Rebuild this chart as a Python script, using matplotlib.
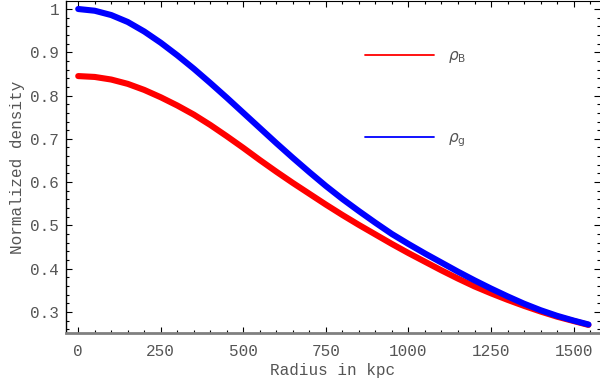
import matplotlib
matplotlib.use("Agg")
import matplotlib.pyplot as plt
from matplotlib.ticker import MultipleLocator

# radius in kpc and the two normalized density profiles
radius = [0, 50, 100, 150, 200, 250, 300, 350, 400, 450, 500, 550, 600, 650,
          700, 750, 800, 850, 900, 950, 1000, 1050, 1100, 1150, 1200, 1250,
          1300, 1350, 1400, 1450, 1500, 1545]
rho_B = [0.845, 0.843, 0.837, 0.827, 0.813, 0.796, 0.777, 0.756, 0.732, 0.706,
         0.679, 0.651, 0.624, 0.598, 0.573, 0.548, 0.524, 0.501, 0.479, 0.457,
         0.436, 0.416, 0.396, 0.377, 0.359, 0.343, 0.328, 0.314, 0.301, 0.289,
         0.279, 0.270]
rho_g = [1.000, 0.996, 0.986, 0.970, 0.948, 0.922, 0.893, 0.862, 0.829, 0.795,
         0.760, 0.725, 0.690, 0.656, 0.623, 0.591, 0.561, 0.533, 0.506, 0.480,
         0.457, 0.435, 0.414, 0.393, 0.373, 0.354, 0.336, 0.319, 0.304, 0.291,
         0.280, 0.271]

txt = "#555555"
mono = "Liberation Mono"

fig = plt.figure(figsize=(6, 3.79), dpi=100)
ax = fig.add_axes([66 / 600, 46 / 379, 534 / 600, 332 / 379])

ax.plot(radius, rho_B, color="#ff0000", lw=4.4, solid_capstyle="round", label=r"$\rho_{\mathrm{B}}$")
ax.plot(radius, rho_g, color="#0000ff", lw=4.4, solid_capstyle="round", label=r"$\rho_{\mathrm{g}}$")

ax.set_xlim(-37, 1580)
ax.set_ylim(0.2513, 1.0185)

ax.xaxis.set_major_locator(MultipleLocator(250))
ax.xaxis.set_minor_locator(MultipleLocator(50))
ax.yaxis.set_minor_locator(MultipleLocator(0.02))
ax.set_yticks([0.3, 0.4, 0.5, 0.6, 0.7, 0.8, 0.9, 1.0])
ax.set_yticklabels(["0.3", "0.4", "0.5", "0.6", "0.7", "0.8", "0.9", "1"])

ax.tick_params(which="both", direction="in", top=True, right=True,
               labelcolor=txt, labelsize=11.5, width=0.8)
ax.tick_params(which="major", length=4.5)
ax.tick_params(which="minor", length=2.5)
ax.tick_params(axis="x", pad=8)
ax.tick_params(axis="y", pad=5)
for lab in ax.get_xticklabels() + ax.get_yticklabels():
    lab.set_fontfamily(mono)

ax.spines["right"].set_visible(False)
ax.spines["left"].set_linewidth(1.0)
ax.spines["top"].set_linewidth(0.8)
ax.spines["bottom"].set_color("#808080")
ax.spines["bottom"].set_linewidth(2.0)

ax.set_xlabel("Radius in kpc", family=mono, fontsize=11.5, color=txt, labelpad=3)
ax.set_ylabel("Normalized density", family=mono, fontsize=11.5, color=txt, labelpad=4)

leg = ax.legend(loc="upper left", bbox_to_anchor=(0.535, 0.9), frameon=False,
                handlelength=4.5, handletextpad=0.9, labelspacing=4.3,
                fontsize=11, labelcolor=txt)
for h in leg.legend_handles:
    h.set_linewidth(1.3)

plt.savefig("out.png", dpi=100)
